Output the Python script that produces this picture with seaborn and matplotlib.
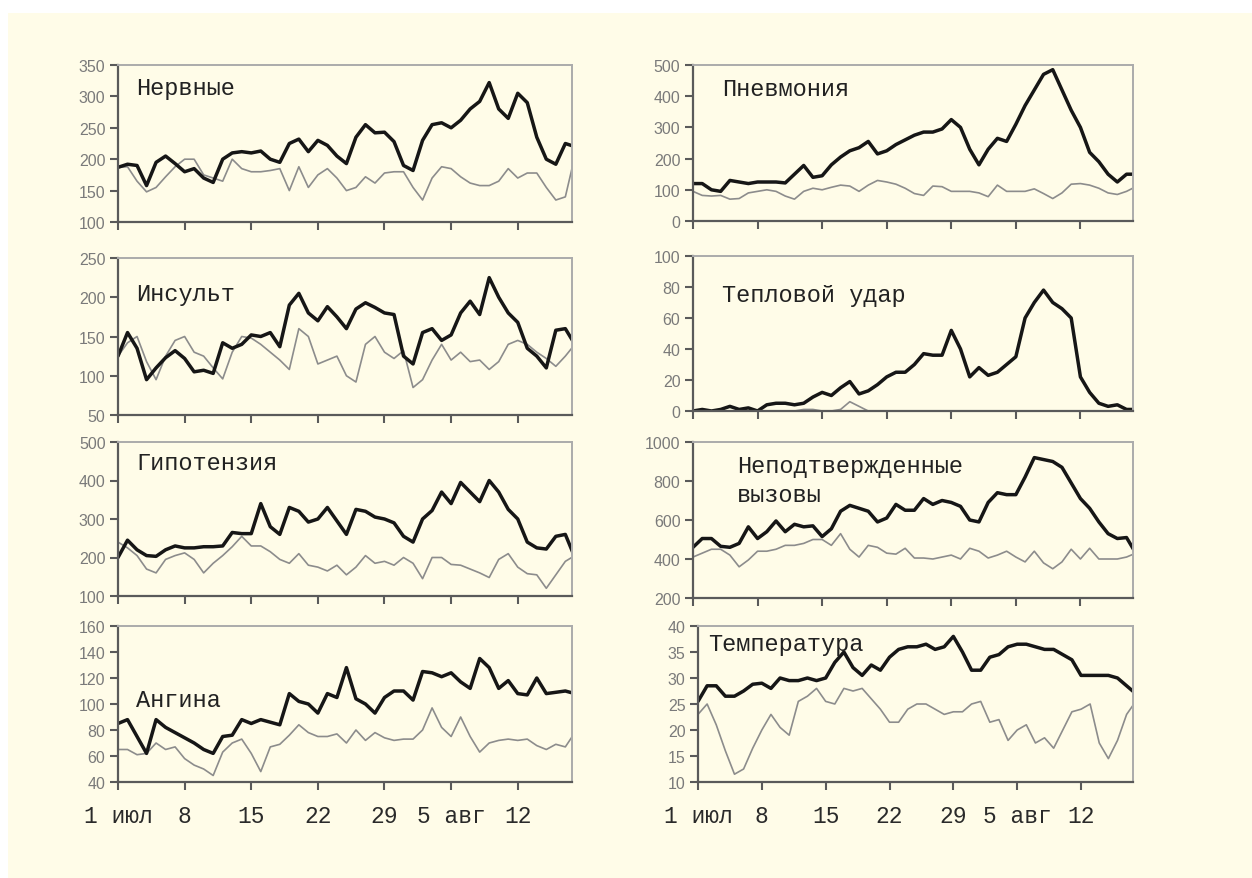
import numpy as np
import pandas as pd
import matplotlib
matplotlib.use("Agg")
import matplotlib.pyplot as plt
from matplotlib.patches import Rectangle
import seaborn as sns

# ---- data: daily values, 1 July .. 18 August ----
days = list(range(49))

nerv_cur = [187,192,190,158,195,205,193,180,185,170,163,200,210,212,210,213,200,195,225,232,212,230,222,205,193,235,255,242,243,228,190,182,230,255,258,250,262,280,292,322,280,265,305,290,235,200,192,225,220]
nerv_base = [187,188,165,148,155,172,188,200,200,175,170,165,200,185,180,180,182,185,150,188,155,175,185,170,150,155,172,162,178,180,180,155,135,170,188,185,172,162,158,158,165,185,170,178,178,155,135,140,205]

pneu_cur = [120,120,100,95,130,125,120,125,125,125,122,150,178,140,145,180,205,225,235,255,215,225,245,260,275,285,285,295,325,300,230,180,230,265,255,310,370,420,470,485,420,355,300,220,190,150,125,150,150]
pneu_base = [95,82,80,82,70,72,90,95,100,95,80,70,95,105,100,108,115,112,95,115,130,125,118,105,88,82,112,110,95,95,95,90,78,115,95,95,95,103,88,72,90,118,120,115,105,90,85,95,110]

insult_cur = [125,155,135,95,110,123,132,122,105,107,103,142,135,140,152,150,155,137,190,205,180,170,188,175,160,185,193,187,180,178,125,115,155,160,145,152,180,195,178,225,200,180,168,135,125,110,158,160,140]
insult_base = [125,142,150,118,95,125,145,150,130,125,110,96,130,150,148,140,130,120,108,160,150,115,120,125,100,92,140,150,130,122,132,85,95,120,140,120,130,118,120,108,118,140,145,140,130,122,112,125,140]

heat_cur = [0,1,0,1,3,1,2,0,4,5,5,4,5,9,12,10,15,19,11,13,17,22,25,25,30,37,36,36,52,40,22,28,23,25,30,35,60,70,78,70,66,60,22,12,5,3,4,1,1]
heat_base = [0,0,0,0,0,0,0,0,0,0,0,0,1,1,0,0,1,6,3,0,0,0,0,0,0,0,0,0,0,0,0,0,0,0,0,0,0,0,0,0,0,0,0,0,0,0,0,0,0]

hypo_cur = [200,245,220,205,203,220,230,225,225,228,228,230,265,262,262,340,280,260,330,320,292,300,330,295,260,325,320,305,300,290,255,240,300,322,370,340,395,370,345,400,370,325,300,240,225,222,255,260,200]
hypo_base = [240,225,205,170,160,195,205,212,195,160,185,205,228,255,230,230,215,195,185,210,180,175,165,180,155,175,205,185,190,180,200,185,145,200,200,182,180,170,160,148,195,210,175,158,155,120,155,190,205]

calls_cur = [460,505,505,465,460,480,565,505,540,595,540,578,565,570,515,555,645,675,660,645,590,610,680,650,650,710,680,700,690,670,600,590,690,740,730,730,820,920,910,900,870,790,710,660,590,530,505,510,430]
calls_base = [410,430,450,450,420,360,395,440,440,450,470,470,480,500,500,470,530,450,410,470,460,430,425,455,405,405,400,410,420,400,455,440,405,420,440,410,385,440,380,350,385,450,400,455,400,400,400,410,430]

angina_cur = [85,88,75,62,88,82,78,74,70,65,62,75,76,88,85,88,86,84,108,102,100,93,108,105,128,104,100,93,105,110,110,103,125,124,121,124,117,112,135,128,112,118,108,107,120,108,109,110,108]
angina_base = [65,65,61,62,70,65,67,58,53,50,45,63,70,73,62,48,67,69,76,84,78,75,75,77,70,80,72,78,74,72,73,73,80,97,82,75,90,75,63,70,72,73,72,73,68,65,69,67,78]

temp_cur = [25.5,28.5,28.5,26.5,26.5,27.5,28.8,29,28,30,29.5,29.5,30,29.5,30,33,35,32,30.5,32.5,31.5,34,35.5,36,36,36.5,35.5,36,38,35,31.5,31.5,34,34.5,36,36.5,36.5,36,35.5,35.5,34.5,33.5,30.5,30.5,30.5,30.5,30,28.5,27]
temp_base = [23,25,21,16,11.5,12.5,16.5,20,23,20.5,19,25.5,26.5,28,25.5,25,28,27.5,28,26,24,21.5,21.5,24,25,25,24,23,23.5,23.5,25,25.5,21.5,22,18,20,21,17.5,18.5,16.5,20,23.5,24,25,17.5,14.5,18,23,25.5]

week_ticks = [0, 7, 14, 21, 28, 35, 42]
week_labels = ["1 июл", "8", "15", "22", "29", "5 авг", "12"]

titles = ["Нервные", "Пневмония", "Инсульт", "Тепловой удар",
          "Гипотензия", "Неподтвержденные\nвызовы", "Ангина", "Температура"]
series = [(nerv_cur, nerv_base), (pneu_cur, pneu_base),
          (insult_cur, insult_base), (heat_cur, heat_base),
          (hypo_cur, hypo_base), (calls_cur, calls_base),
          (angina_cur, angina_base), (temp_cur, temp_base)]
yticks = [np.arange(100, 351, 50), np.arange(0, 501, 100),
          np.arange(50, 251, 50), np.arange(0, 101, 20),
          np.arange(100, 501, 100), np.arange(200, 1001, 200),
          np.arange(40, 161, 20), np.arange(10, 41, 5)]

# ---- styling ----
sns.set_style("white")
plt.rcParams["font.family"] = ["Liberation Mono", "DejaVu Sans"]

CREAM = "#FFFCE8"
DARK = "#161616"
GREY = "#8c8c8c"
AXIS = "#5a5a5a"
FRAME = "#ababab"

W, H = 1252, 879
fig = plt.figure(figsize=(W / 100, H / 100), dpi=100)
fig.patch.set_facecolor("white")
fig.patches.append(Rectangle((8 / W, 0), 1, 1 - 14 / H, transform=fig.transFigure,
                             facecolor=CREAM, edgecolor="none", zorder=-10))

# panel boxes in pixels: left, top, right, bottom
boxes = [(118, 66, 572, 223), (693, 66, 1133, 222),
         (118, 259, 572, 416), (693, 257, 1133, 412),
         (118, 443, 572, 597), (693, 443, 1133, 599),
         (118, 627, 572, 783), (698, 627, 1133, 783)]
# title anchor (left, vertical centre) in pixels
title_pos = [(136, 89), (722, 89), (136, 295), (722, 296),
             (136, 464), (737, 481), (136, 701), (708, 645)]

for i, (box, title, (cur, base), yt) in enumerate(zip(boxes, titles, series, yticks)):
    l, t, r, b = box
    ax = fig.add_axes([l / W, 1 - b / H, (r - l) / W, (b - t) / H])
    ax.set_facecolor(CREAM)

    df = pd.DataFrame({"day": days, "cur": cur, "base": base})
    sns.lineplot(data=df, x="day", y="base", ax=ax, color=GREY, linewidth=1.2,
                 solid_joinstyle="round", solid_capstyle="round")
    sns.lineplot(data=df, x="day", y="cur", ax=ax, color=DARK, linewidth=2.5,
                 solid_joinstyle="round", solid_capstyle="round")

    ax.set_xlim(0, 47.7)
    ax.set_ylim(yt[0], yt[-1])
    ax.set_yticks(yt)
    ax.set_yticklabels([str(v) for v in yt], family="Liberation Sans",
                       fontsize=11.5, color="#7a7a7a")
    ax.set_xticks(week_ticks)
    if i >= 6:
        ax.set_xticklabels(week_labels, fontsize=16.5, color="#2a2a2a")
    else:
        ax.set_xticklabels([])
    ax.set_xlabel("")
    ax.set_ylabel("")

    for side in ("left", "bottom"):
        ax.spines[side].set_color(AXIS)
        ax.spines[side].set_linewidth(1.6)
    for side in ("top", "right"):
        ax.spines[side].set_color(FRAME)
        ax.spines[side].set_linewidth(1.4)
    ax.tick_params(axis="both", direction="out", length=6, width=1.5,
                   color=AXIS, left=True, bottom=True)
    ax.tick_params(axis="x", pad=10)
    ax.tick_params(axis="y", pad=3)

    tx, ty = title_pos[i]
    fig.text(tx / W, 1 - ty / H, title, ha="left", va="center",
             fontsize=17, color="#222222", linespacing=1.35)

fig.savefig("out.png", dpi=100, facecolor=fig.get_facecolor())
